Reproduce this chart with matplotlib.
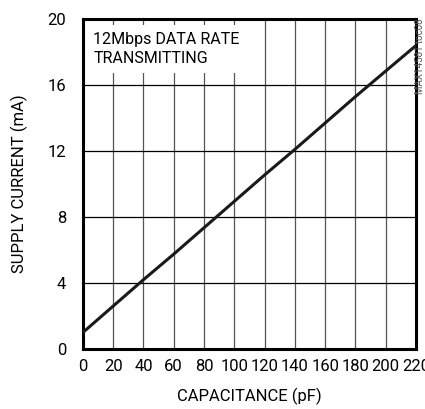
import matplotlib.pyplot as plt
import numpy as np

# ---   DATA   --- #
capacitance = [0, 20, 40, 60, 80, 100, 120, 140, 160, 180, 200, 220]
supply_current = [1.0, 2.6, 4.2, 5.75, 7.35, 8.95, 10.55, 12.1, 13.7, 15.3, 16.85, 18.4]
xticks = list(range(0, 221, 20))
yticks = [0, 4, 8, 12, 16, 20]

plt.rcParams['font.family'] = ['Roboto', 'DejaVu Sans']

fig = plt.figure(figsize=(4.25, 4.09), dpi=100)
ax = fig.add_axes([0.195, 0.1467, 0.784, 0.8068])

ax.plot(capacitance, supply_current, color='#1a1a1a', lw=2.2, zorder=4)

ax.set_xlim(0, 220)
ax.set_ylim(0, 20)
ax.set_xticks(xticks)
ax.set_yticks(yticks)
ax.xaxis.grid(True, color='#555555', lw=0.9)
ax.yaxis.grid(True, color='black', lw=0.9)
ax.set_axisbelow(True)
for s in ax.spines.values():
    s.set_linewidth(2.2)
ax.tick_params(axis='both', length=0, labelsize=12)
ax.tick_params(axis='x', pad=7)
ax.tick_params(axis='y', pad=12)

ax.set_xlabel('CAPACITANCE (pF)', fontsize=12, labelpad=10)
ax.set_ylabel('SUPPLY CURRENT (mA)', fontsize=12, labelpad=14)

ax.text(7, 19.2, '12Mbps DATA RATE\nTRANSMITTING', fontsize=11.5, va='top', ha='left',
        linespacing=1.35, zorder=5,
        bbox=dict(facecolor='white', edgecolor='none', pad=5))

fig.text(0.9995, 0.955, 'MAX14581 toc08', rotation=90, fontsize=7, color='#555555',
         ha='right', va='top')

plt.savefig('out.png', dpi=100)
